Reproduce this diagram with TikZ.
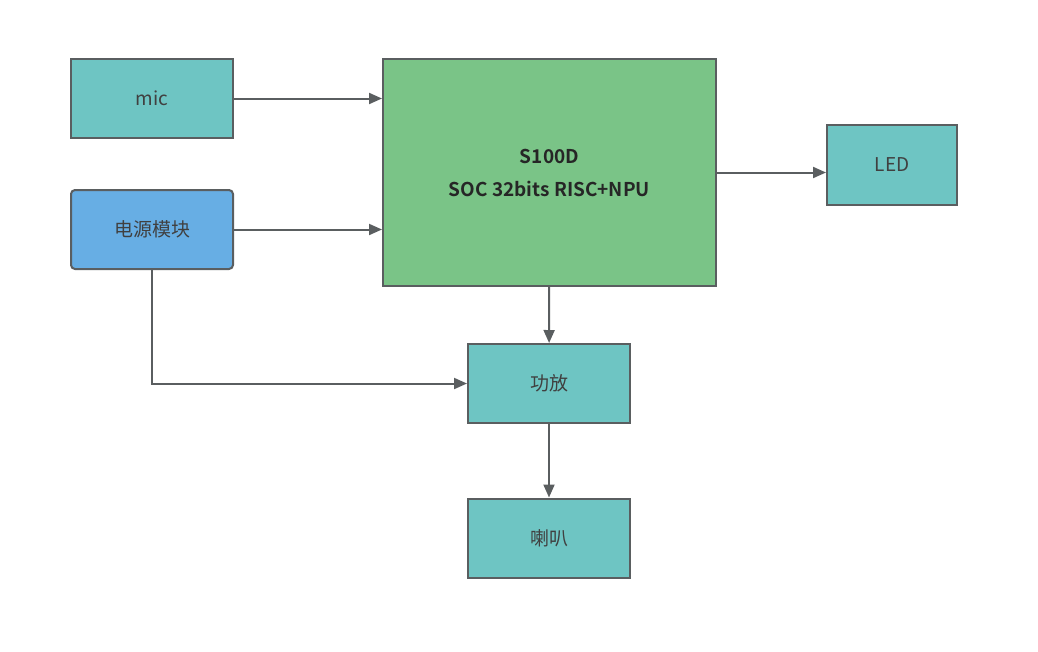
\documentclass[tikz,border=0pt]{standalone}
\usepackage{fontspec}
\usetikzlibrary{arrows.meta}
\setmainfont{Noto Sans CJK SC}[BoldFont={Noto Sans CJK SC Bold}]
\definecolor{tealbox}{HTML}{6EC5C3}
\definecolor{greenbox}{HTML}{7AC487}
\definecolor{bluebox}{HTML}{67AEE4}
\definecolor{edgegray}{HTML}{5A5E60}

\begin{document}
\begin{tikzpicture}[x=1pt,y=-1pt,>={Triangle[length=13pt,width=11pt]},
    link/.style={->,line width=2pt,draw=edgegray,fill=edgegray},
    block/.style={draw=edgegray,line width=2pt,fill=tealbox,minimum width=162pt,minimum height=79pt,inner sep=0pt,font=\fontsize{19}{22}\selectfont,text=black!75},
    chip/.style={block,fill=greenbox,minimum width=333pt,minimum height=227pt,font=\fontsize{19}{33}\selectfont\bfseries,text=black!85,align=center}]
    \useasboundingbox (0,0) rectangle (1038,651);
    \node[block] (mic) at (152,98.5) {mic};
    \node[block,fill=bluebox,rounded corners=4pt] (power) at (152,229.5) {电源模块};
    \node[chip] (soc) at (549.5,172.5) {S100D\\SOC 32bits RISC+NPU};
    \node[block,minimum width=130pt,minimum height=80pt] (led) at (892,165) {LED};
    \node[block] (amp) at (549,383.5) {功放};
    \node[block] (spk) at (549,538) {喇叭};

    \draw[link] (mic) -- (mic -| soc.west);
    \draw[link] (power) -- (power -| soc.west);
    \draw[link] (soc) -- (soc -| led.west);
    \draw[link] (soc) -- (amp);
    \draw[link] (amp) -- (spk);
    \draw[link,fill=none] (power.south) |- (amp.west);
\end{tikzpicture}
\end{document}
